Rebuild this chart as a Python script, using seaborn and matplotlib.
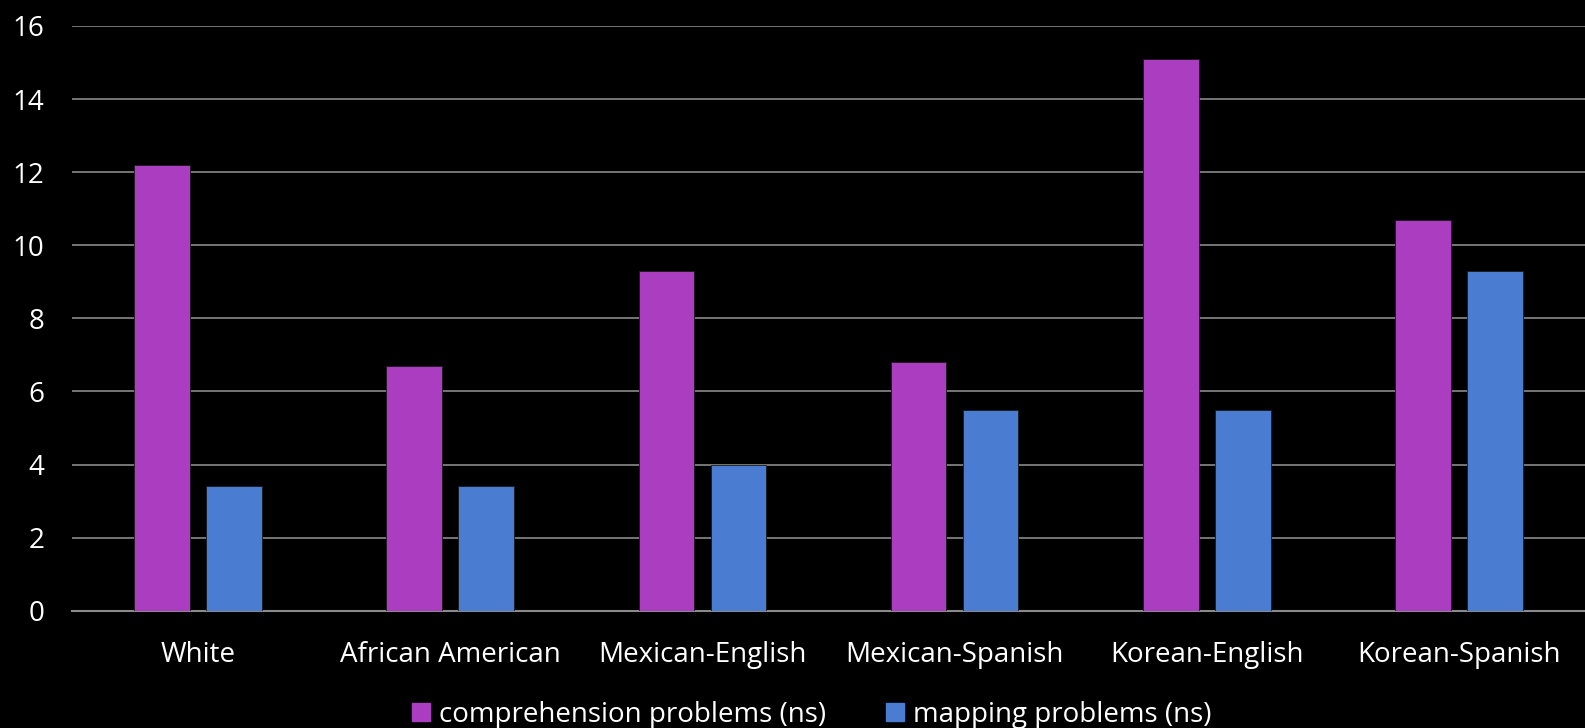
import matplotlib
matplotlib.use("Agg")
import matplotlib.pyplot as plt
import seaborn as sns
import pandas as pd
from matplotlib.lines import Line2D

categories = ["White", "African American", "Mexican-English", "Mexican-Spanish",
              "Korean-English", "Korean-Spanish"]
series_names = ["comprehension problems (ns)", "mapping problems (ns)"]
comprehension = [12.2, 6.7, 9.3, 6.8, 15.1, 10.7]
mapping = [3.4, 3.4, 4.0, 5.5, 5.5, 9.3]
yticks = [0, 2, 4, 6, 8, 10, 12, 14, 16]
colors = ["#AB3DC0", "#4A7DD2"]

df = pd.DataFrame({
    "category": categories * 2,
    "series": [series_names[0]] * len(categories) + [series_names[1]] * len(categories),
    "value": comprehension + mapping,
})

sns.set_style("dark")
plt.rcParams['font.family'] = ['Open Sans', 'DejaVu Sans']

fig = plt.figure(figsize=(15.85, 7.28), dpi=100, facecolor="black")
ax = fig.add_axes([0.0454, 0.1611, 0.9546, 0.8032])
ax.set_facecolor("black")

sns.barplot(data=df, x="category", y="value", hue="series", order=categories,
            hue_order=series_names, palette=colors, saturation=1, width=0.571, gap=0.227,
            ax=ax, legend=False, zorder=3)
for p in ax.patches:
    p.set_edgecolor("#1a1a1a")
    p.set_linewidth(0.6)

ax.set_ylim(0, 16)
ax.set_xlim(-0.5, len(categories) - 0.5)
ax.set_yticks(yticks)
ax.set_yticklabels([str(v) for v in yticks])
ax.yaxis.grid(True, color="#8a8a8a", linewidth=1.2, zorder=0)
ax.xaxis.grid(False)
ax.set_axisbelow(True)
for s in ["left", "right", "top"]:
    ax.spines[s].set_visible(False)
ax.spines["bottom"].set_visible(True)
ax.spines["bottom"].set_color("#8a8a8a")
ax.spines["bottom"].set_linewidth(1.5)
ax.tick_params(axis="both", colors="white", labelsize=20, length=0)
ax.tick_params(axis="y", pad=20)
ax.tick_params(axis="x", pad=22)
ax.set_xlabel("")
ax.set_ylabel("")

handles = [Line2D([0], [0], marker="s", linestyle="", markersize=13.5,
                  markerfacecolor=c, markeredgecolor=c) for c in colors]
leg = fig.legend(handles, series_names, loc="lower center", bbox_to_anchor=(0.511, -0.036),
                 ncol=2, frameon=False, fontsize=20, labelcolor="white",
                 handletextpad=0.2, columnspacing=2.0, handlelength=0.9)

fig.savefig("out.png", dpi=100, facecolor="black")
